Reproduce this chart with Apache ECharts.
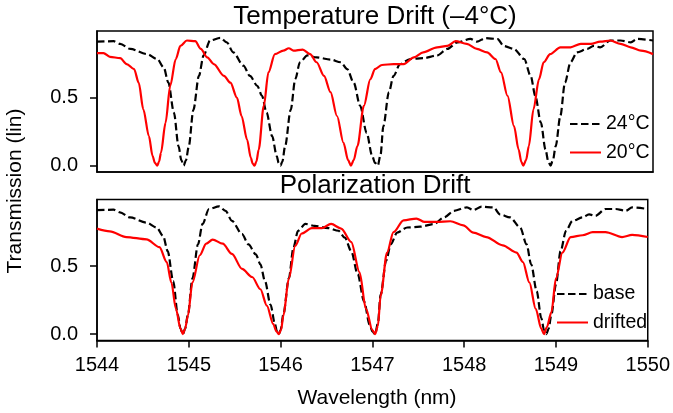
<!DOCTYPE html>
<html>
<head>
<meta charset="utf-8">
<script src="https://cdn.jsdelivr.net/npm/echarts@6/dist/echarts.min.js"></script>
<style>
html,body{margin:0;padding:0;background:#fff;}
#chart{width:673px;height:413px;}
</style>
</head>
<body>
<div id="chart"></div>
<script>
// ---- data ----
const xTicks = [1544, 1545, 1546, 1547, 1548, 1549, 1550];
const yTicks = [0, 0.5];

const baseWl = [1544.00,1544.18,1544.25,1544.36,1544.54,1544.65,1544.72,1544.77,1544.83,1544.88,1544.91,1544.935,1544.96,1544.99,1545.04,1545.10,1545.15,1545.22,1545.33,1545.40,1545.47,1545.58,1545.65,1545.73,1545.78,1545.83,1545.89,1545.94,1545.96,1545.98,1546.00,1546.03,1546.09,1546.14,1546.19,1546.27,1546.37,1546.52,1546.63,1546.70,1546.77,1546.84,1546.91,1546.97,1547.00,1547.03,1547.06,1547.09,1547.15,1547.20,1547.27,1547.38,1547.52,1547.67,1547.78,1547.89,1548.03,1548.10,1548.19,1548.32,1548.39,1548.50,1548.61,1548.68,1548.73,1548.79,1548.84,1548.87,1548.895,1548.92,1548.95,1549.00,1549.05,1549.11,1549.18,1549.29,1549.36,1549.43,1549.54,1549.65,1549.76,1549.83,1550.00];
const baseT  = [0.912,0.915,0.895,0.858,0.820,0.784,0.722,0.611,0.390,0.143,0.040,0.000,0.040,0.140,0.410,0.660,0.810,0.920,0.940,0.907,0.833,0.735,0.660,0.587,0.513,0.390,0.217,0.070,0.020,0.000,0.030,0.143,0.410,0.636,0.760,0.810,0.796,0.780,0.760,0.710,0.610,0.440,0.240,0.070,0.020,0.000,0.080,0.290,0.540,0.660,0.747,0.784,0.790,0.810,0.858,0.907,0.932,0.912,0.937,0.932,0.880,0.858,0.784,0.660,0.513,0.316,0.118,0.030,0.000,0.040,0.143,0.365,0.610,0.760,0.833,0.858,0.880,0.870,0.920,0.920,0.907,0.932,0.920];

const tempWl = [1544.00,1544.07,1544.14,1544.25,1544.32,1544.40,1544.45,1544.50,1544.56,1544.60,1544.625,1544.65,1544.67,1544.69,1544.74,1544.79,1544.85,1544.90,1544.97,1545.06,1545.12,1545.19,1545.26,1545.37,1545.44,1545.51,1545.56,1545.62,1545.66,1545.68,1545.70,1545.72,1545.745,1545.80,1545.85,1545.92,1546.01,1546.07,1546.12,1546.22,1546.30,1546.37,1546.45,1546.52,1546.59,1546.66,1546.71,1546.74,1546.77,1546.81,1546.88,1546.95,1547.00,1547.075,1547.20,1547.31,1547.42,1547.52,1547.67,1547.78,1547.87,1547.99,1548.10,1548.21,1548.30,1548.36,1548.43,1548.50,1548.55,1548.58,1548.60,1548.63,1548.66,1548.71,1548.77,1548.82,1548.89,1549.00,1549.11,1549.22,1549.33,1549.43,1549.54,1549.65,1549.76,1549.87,1550.00];
const tempT  = [0.828,0.828,0.800,0.790,0.747,0.710,0.610,0.414,0.217,0.070,0.020,0.000,0.030,0.094,0.316,0.587,0.784,0.880,0.920,0.915,0.858,0.796,0.747,0.660,0.610,0.500,0.365,0.190,0.057,0.015,0.000,0.030,0.118,0.440,0.685,0.820,0.845,0.863,0.845,0.853,0.820,0.760,0.660,0.540,0.365,0.168,0.040,0.000,0.040,0.143,0.440,0.636,0.710,0.740,0.747,0.747,0.796,0.833,0.870,0.880,0.915,0.895,0.858,0.833,0.784,0.685,0.513,0.290,0.118,0.025,0.000,0.040,0.143,0.414,0.636,0.760,0.820,0.870,0.870,0.895,0.895,0.912,0.920,0.895,0.870,0.845,0.820];

const driftWl = [1544.00,1544.14,1544.32,1544.54,1544.68,1544.76,1544.81,1544.86,1544.91,1544.935,1544.96,1544.99,1545.04,1545.12,1545.19,1545.26,1545.37,1545.47,1545.58,1545.69,1545.78,1545.85,1545.92,1545.955,1545.98,1546.005,1546.03,1546.09,1546.16,1546.23,1546.34,1546.45,1546.55,1546.66,1546.77,1546.86,1546.93,1547.00,1547.03,1547.06,1547.09,1547.16,1547.23,1547.34,1547.48,1547.57,1547.70,1547.85,1547.99,1548.10,1548.24,1548.42,1548.57,1548.64,1548.71,1548.78,1548.84,1548.87,1548.90,1548.95,1549.00,1549.07,1549.16,1549.29,1549.40,1549.54,1549.72,1549.83,1550.00];
const driftT  = [0.776,0.756,0.714,0.697,0.640,0.530,0.380,0.185,0.040,0.000,0.040,0.135,0.380,0.580,0.665,0.695,0.665,0.590,0.480,0.420,0.330,0.210,0.074,0.020,0.000,0.030,0.135,0.410,0.650,0.740,0.780,0.780,0.810,0.776,0.677,0.455,0.185,0.030,0.000,0.060,0.283,0.600,0.750,0.837,0.850,0.825,0.825,0.830,0.800,0.746,0.714,0.653,0.600,0.530,0.380,0.185,0.040,0.000,0.050,0.160,0.410,0.600,0.714,0.727,0.750,0.750,0.714,0.730,0.714];

const pairs = (xs, ys) => xs.map((x, i) => [x, ys[i]]);

// ---- layout ----
const FONT = '"Liberation Sans", Arial, sans-serif';
const L = 97, R = 20;
const yMin = -0.047, yMax = 0.99;

const chart = echarts.init(document.getElementById('chart'), null, {renderer: 'canvas'});

function xAxisCfg(idx, showLabels) {
  return {
    type: 'value', gridIndex: idx, min: xTicks[0], max: xTicks[xTicks.length - 1], interval: 1,
    axisLine: {show: true, onZero: false, lineStyle: {color: '#000', width: 1.5}},
    axisTick: {show: showLabels, length: 7, inside: false, lineStyle: {color: '#000', width: 1.5}},
    axisLabel: {show: showLabels, color: '#000', fontFamily: FONT, fontSize: 20, margin: 15,
      formatter: v => String(v)},
    splitLine: {show: false}
  };
}
function yAxisCfg(idx) {
  return {
    type: 'value', gridIndex: idx, min: yMin, max: yMax,
    axisLine: {show: true, onZero: false, lineStyle: {color: '#000', width: 1.5}},
    axisTick: {show: true, length: 7, customValues: yTicks, lineStyle: {color: '#000', width: 1.5}},
    axisLabel: {show: true, customValues: yTicks, color: '#000', fontFamily: FONT, fontSize: 20, margin: 19,
      formatter: v => v.toFixed(1)},
    splitLine: {show: false}
  };
}

const lineBase = (name, xi, data, color, dashed) => ({
  name, type: 'line', xAxisIndex: xi, yAxisIndex: xi, data,
  symbol: 'none', smooth: 0.3, smoothMonotone: 'x', clip: true,
  lineStyle: {color, width: 2.2, type: dashed ? [7.5, 3.5] : 'solid'},
  itemStyle: {color}
});

const legendCommon = {
  orient: 'vertical', padding: 0, align: 'left',
  itemWidth: 31, itemHeight: 14, itemGap: 8.5,
  itemStyle: {opacity: 0},
  textStyle: {fontFamily: FONT, fontSize: 19.5, color: '#000'}
};

chart.setOption({
  animation: false,
  backgroundColor: '#fff',
  grid: [
    {left: L, right: R, top: 31, height: 141, show: true, borderColor: '#000', borderWidth: 1.5, backgroundColor: 'transparent'},
    {left: L, right: R, top: 199.5, height: 141, show: true, borderColor: '#000', borderWidth: 1.5, backgroundColor: 'transparent'}
  ],
  xAxis: [xAxisCfg(0, false), xAxisCfg(1, true)],
  yAxis: [yAxisCfg(0), yAxisCfg(1)],
  legend: [
    Object.assign({data: ['24°C', '20°C'], left: 569, top: 114}, legendCommon),
    Object.assign({data: ['base', 'drifted'], left: 556, top: 284}, legendCommon)
  ],
  series: [
    lineBase('24°C', 0, pairs(baseWl, baseT), '#000', true),
    lineBase('20°C', 0, pairs(tempWl, tempT), '#ff0000', false),
    lineBase('base', 1, pairs(baseWl, baseT), '#000', true),
    lineBase('drifted', 1, pairs(driftWl, driftT), '#ff0000', false)
  ],
  graphic: [
    {type: 'text', x: 375, y: 17, style: {text: 'Temperature Drift (–4°C)', font: '26px ' + FONT, fill: '#000', align: 'center', verticalAlign: 'middle'}},
    {type: 'text', x: 375, y: 186, style: {text: 'Polarization Drift', font: '26px ' + FONT, fill: '#000', align: 'center', verticalAlign: 'middle'}},
    {type: 'text', x: 377, y: 398, style: {text: 'Wavelength (nm)', font: '21px ' + FONT, fill: '#000', align: 'center', verticalAlign: 'middle'}},
    {type: 'text', x: 15, y: 191, rotation: Math.PI / 2, style: {text: 'Transmission (lin)', font: '21px ' + FONT, fill: '#000', align: 'center', verticalAlign: 'middle'}}
  ]
});
</script>
</body>
</html>
